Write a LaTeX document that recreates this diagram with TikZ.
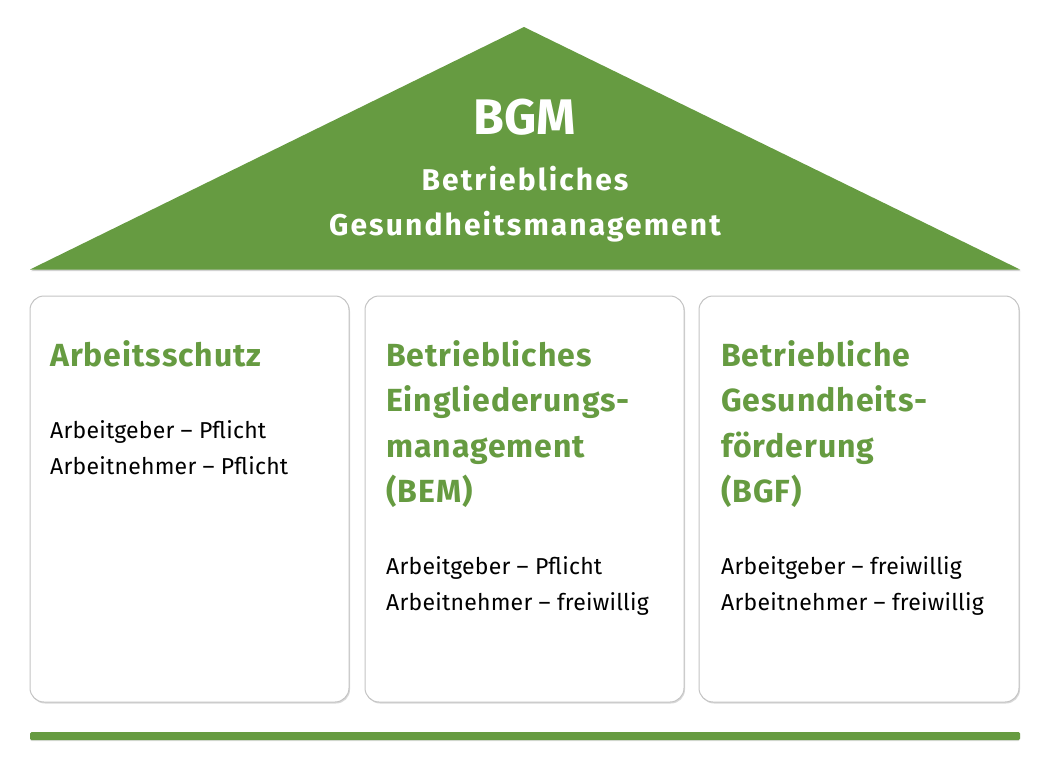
\documentclass[tikz,border=0pt]{standalone}
\usepackage{fontspec}
\setmainfont{Fira Sans}
\newfontfamily\rooffont[LetterSpace=7]{Fira Sans}
\newfontfamily\titlefont[LetterSpace=3]{Fira Sans}
\newfontfamily\bodyfont[LetterSpace=1]{Fira Sans}
\usetikzlibrary{shadows}
\definecolor{bgmgreen}{HTML}{669B41}
\definecolor{boxline}{HTML}{C4C4C4}
\tikzset{
  roof/.style={fill=bgmgreen, draw=none, drop shadow={shadow xshift=1pt, shadow yshift=-1.5pt, fill=black!35, opacity=.5}},
  pillar/.style={fill=white, draw=boxline, line width=1pt, rounded corners=14pt, drop shadow={shadow xshift=1pt, shadow yshift=-1.5pt, fill=black!30, opacity=.5}},
  floorbar/.style={fill=bgmgreen, draw=none, rounded corners=1.5pt, drop shadow={shadow xshift=0pt, shadow yshift=-1pt, fill=black!30, opacity=.4}},
  rooftitle/.style={text=white, font=\fontsize{50}{50}\selectfont\bfseries, anchor=base, inner sep=0},
  roofsub/.style={text=white, font=\rooffont\fontsize{30}{30}\selectfont\bfseries, anchor=base, inner sep=0},
  ptitle/.style={text=bgmgreen, font=\titlefont\fontsize{32}{32}\selectfont\bfseries, anchor=base west, inner sep=0},
  pbody/.style={text=black, font=\bodyfont\fontsize{23}{23}\selectfont, anchor=base west, inner sep=0},
}
\begin{document}
\begin{tikzpicture}[x=1pt,y=-1pt]
\useasboundingbox (0,0) rectangle (1050,773);
% roof
\coordinate (apex) at (524,27);
\coordinate (rl) at (30,269.5);
\coordinate (rr) at (1020,269.5);
\path[roof] (apex) -- (rr) -- (rl) -- cycle;
\node[rooftitle] (bgm) at (525,135) {BGM};
\node[roofsub] (bgm1) at (525,190.5) {Betriebliches};
\node[roofsub] (bgm2) at (525,235) {Gesundheitsmanagement};
% pillars
\path[pillar] (30,296) rectangle (349,702);
\path[pillar] (365,296) rectangle (684,702);
\path[pillar] (699,296) rectangle (1019,702);
% pillar 1
\node[ptitle] (a1) at (50,366) {Arbeitsschutz};
\node[pbody] (a2) at (50,438) {Arbeitgeber – Pflicht};
\node[pbody] (a3) at (50,474) {Arbeitnehmer – Pflicht};
% pillar 2
\node[ptitle] (b1) at (386,366) {Betriebliches};
\node[ptitle] (b2) at (386,411.5) {Eingliederungs-};
\node[ptitle] (b3) at (386,457) {management};
\node[ptitle] (b4) at (386,502.5) {(BEM)};
\node[pbody] (b5) at (386,574) {Arbeitgeber – Pflicht};
\node[pbody] (b6) at (386,610.5) {Arbeitnehmer – freiwillig};
% pillar 3
\node[ptitle] (c1) at (721,366) {Betriebliche};
\node[ptitle] (c2) at (721,411.5) {Gesundheits-};
\node[ptitle] (c3) at (721,457) {förderung};
\node[ptitle] (c4) at (721,502.5) {(BGF)};
\node[pbody] (c5) at (721,574) {Arbeitgeber – freiwillig};
\node[pbody] (c6) at (721,610.5) {Arbeitnehmer – freiwillig};
% floor
\path[floorbar] (30,732) rectangle (1020,740);
\end{tikzpicture}
\end{document}
